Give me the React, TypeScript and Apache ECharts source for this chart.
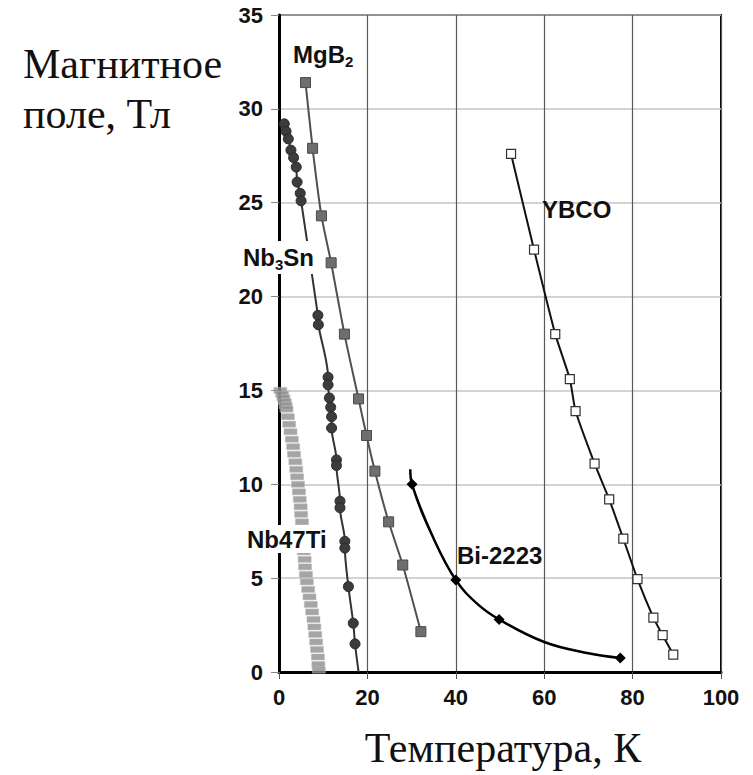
import React, { useEffect, useRef } from "react";
import * as echarts from "echarts";

// Temperature (K), magnetic field (T)
const mgb2: number[][] = [
  [6.0, 31.4], [7.6, 27.9], [9.6, 24.3], [11.8, 21.8], [14.8, 18.0],
  [18.0, 14.55], [19.8, 12.6], [21.7, 10.7], [24.8, 8.0], [28.0, 5.7], [32.1, 2.15],
];

const nb3sn: number[][] = [
  [1.2, 29.2], [1.6, 28.8], [2.1, 28.4], [2.7, 27.8], [3.3, 27.4], [3.9, 26.9],
  [4.1, 26.1], [4.8, 25.5], [5.0, 25.1], [8.8, 19.0], [8.9, 18.5],
  [11.1, 15.7], [11.1, 15.3], [11.4, 14.6], [11.7, 14.1], [11.9, 13.6], [11.9, 13.0],
  [13.0, 11.3], [13.0, 11.0], [13.8, 9.1], [13.8, 8.75], [14.9, 6.96], [14.9, 6.6],
  [15.7, 4.55], [16.8, 2.6], [17.2, 1.5],
];
const nb3snLineEnd: number[] = [18.0, 0];

const nb47ti: number[][] = [
  [0.3, 15.0], [0.7, 14.8], [1.0, 14.6], [1.3, 14.4], [1.5, 14.2], [1.7, 14.0],
  [2.0, 13.6], [2.3, 13.2], [2.6, 12.8], [2.9, 12.4], [3.2, 12.0], [3.4, 11.6],
  [3.7, 11.2], [3.9, 10.8], [4.1, 10.4], [4.3, 10.0], [4.5, 9.6], [4.7, 9.2],
  [4.9, 8.8], [5.0, 8.4], [5.2, 8.0], [5.3, 7.6], [5.4, 7.2], [5.5, 6.8],
  [5.6, 6.4], [5.8, 6.0], [5.9, 5.6], [6.1, 5.2], [6.3, 4.8], [6.6, 4.4],
  [6.9, 4.0], [7.2, 3.6], [7.5, 3.2], [7.8, 2.8], [8.0, 2.4], [8.2, 2.0],
  [8.4, 1.6], [8.6, 1.2], [8.8, 0.8], [8.9, 0.4], [9.0, 0.1],
];

const bi2223: number[][] = [[30.1, 10.0], [40.0, 4.9], [49.8, 2.8], [77.2, 0.75]];
const bi2223Curve: number[][] = [[29.7, 10.8], [35.0, 7.1], [45.0, 3.6], [60.0, 1.6], [70.0, 1.0]];

const ybco: number[][] = [
  [52.5, 27.6], [57.7, 22.5], [62.5, 18.0], [65.8, 15.6], [67.1, 13.9], [71.4, 11.1],
  [74.7, 9.2], [77.9, 7.1], [81.1, 4.95], [84.7, 2.9], [86.8, 1.96], [89.2, 0.93],
];

const xTicks = { min: 0, max: 100, interval: 20 };
const yTicks = { min: 0, max: 35, interval: 5 };

const SANS = "'Liberation Sans', Arial, sans-serif";
const SERIF = "'Liberation Serif', 'Times New Roman', serif";

function sortByX(points: { value: number[]; symbol?: string }[]) {
  return points.slice().sort((a, b) => a.value[0] - b.value[0]);
}

export default function App() {
  const ref = useRef<HTMLDivElement>(null);

  useEffect(() => {
    if (!ref.current) return;
    const chart = echarts.init(ref.current, undefined, { renderer: "svg" });

    const biData = sortByX([
      ...bi2223.map((p) => ({ value: p })),
      ...bi2223Curve.map((p) => ({ value: p, symbol: "none" })),
    ]);

    const labelRich = {
      sub: { fontSize: 15, fontWeight: "bold", fontFamily: SANS, padding: [14, 0, 0, 0], color: "#111" },
    };

    const label = (text: string, x: number, y: number, bg?: boolean) => ({
      type: "text",
      left: x,
      top: y,
      z: 100,
      style: {
        text,
        fontFamily: SANS,
        fontWeight: "bold",
        fontSize: 24,
        fill: "#111",
        rich: labelRich,
        backgroundColor: bg ? "#fff" : undefined,
        padding: bg ? [2, 2, 2, 2] : 0,
      },
    });

    chart.setOption({
      animation: false,
      backgroundColor: "#fff",
      grid: {
        left: 279,
        right: 32,
        top: 15,
        bottom: 103,
        show: true,
        borderColor: "#000",
        borderWidth: 2,
      },
      xAxis: {
        type: "value",
        ...xTicks,
        name: "Температура, К",
        nameLocation: "middle",
        nameGap: 55,
        nameTextStyle: { fontFamily: SERIF, fontSize: 42, color: "#111", padding: [0, 0, 0, 6] },
        axisLine: { show: true, onZero: false, lineStyle: { color: "#000", width: 3 } },
        axisTick: { show: true, length: 7, lineStyle: { color: "#555", width: 1 } },
        splitLine: { show: true, lineStyle: { color: "#5a5a5a", width: 1.2 } },
        axisLabel: { fontFamily: SANS, fontWeight: "bold", fontSize: 22, color: "#111", margin: 14 },
      },
      yAxis: {
        type: "value",
        ...yTicks,
        axisLine: { show: true, onZero: false, lineStyle: { color: "#000", width: 3 } },
        axisTick: { show: true, length: 8, lineStyle: { color: "#888", width: 1 } },
        splitLine: { show: true, lineStyle: { color: "#c4c4c4", width: 1.5 } },
        axisLabel: { fontFamily: SANS, fontWeight: "bold", fontSize: 22, color: "#111", margin: 16 },
      },
      graphic: [
        {
          type: "text",
          left: 23,
          top: 43,
          style: { text: "Магнитное", fontFamily: SERIF, fontSize: 42, fill: "#111" },
        },
        {
          type: "text",
          left: 23,
          top: 93,
          style: { text: "поле, Тл", fontFamily: SERIF, fontSize: 42, fill: "#111" },
        },
        label("MgB{sub|2}", 293, 42),
        label("Nb{sub|3}Sn", 241, 241, true),
        label("Nb47Ti", 245, 525, true),
        label("Bi-2223", 457, 543),
        label("YBCO", 542, 197),
      ],
      series: [
        {
          name: "Nb47Ti",
          type: "scatter",
          data: nb47ti,
          symbol: "rect",
          symbolSize: [13, 6],
          itemStyle: { color: "#8e8e8e", borderColor: "#b8b8b8", borderWidth: 0.6 },
          z: 3,
        },
        {
          name: "Nb3Sn",
          type: "line",
          data: [...nb3sn.map((p) => ({ value: p })), { value: nb3snLineEnd, symbol: "none" }],
          smooth: 0.3,
          symbol: "circle",
          symbolSize: 10,
          showAllSymbol: true,
          lineStyle: { color: "#333", width: 2 },
          itemStyle: { color: "#3c3c3c", borderColor: "#2a2a2a", borderWidth: 1 },
          z: 4,
        },
        {
          name: "MgB2",
          type: "line",
          data: mgb2,
          smooth: 0.2,
          symbol: "rect",
          symbolSize: 10,
          showAllSymbol: true,
          lineStyle: { color: "#505050", width: 2 },
          itemStyle: { color: "#6e6e6e", borderColor: "#4a4a4a", borderWidth: 1 },
          z: 4,
        },
        {
          name: "Bi-2223",
          type: "line",
          data: biData,
          smooth: 0.4,
          symbol: "diamond",
          symbolSize: 11,
          showAllSymbol: true,
          lineStyle: { color: "#000", width: 2.5 },
          itemStyle: { color: "#000" },
          z: 4,
        },
        {
          name: "YBCO",
          type: "line",
          data: ybco,
          smooth: 0.2,
          symbol: "rect",
          symbolSize: 9,
          showAllSymbol: true,
          lineStyle: { color: "#111", width: 2 },
          itemStyle: { color: "#fff", borderColor: "#333", borderWidth: 1.2 },
          z: 4,
        },
      ],
    });

    return () => chart.dispose();
  }, []);

  return (
    <div
      ref={ref}
      style={{ position: "absolute", left: 0, top: 0, width: 753, height: 775 }}
    />
  );
}
